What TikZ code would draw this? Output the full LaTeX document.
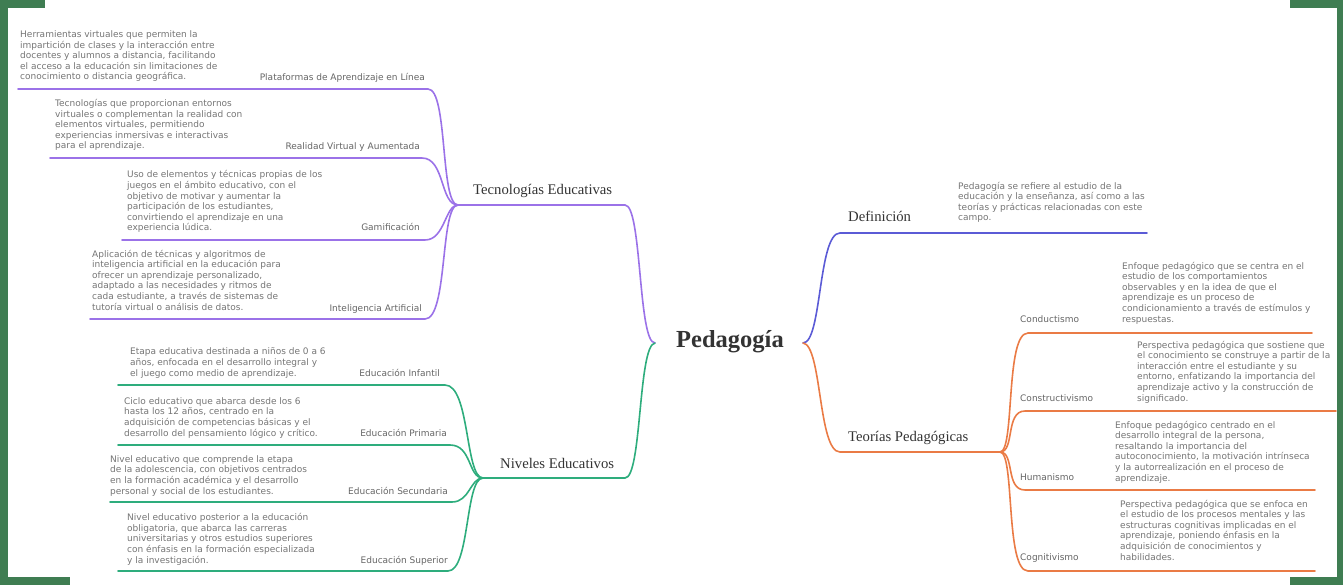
\documentclass[tikz,border=0pt]{standalone}
\usepackage{fontspec}
\setmainfont{DejaVu Sans}
\newfontfamily\slabfont{Liberation Serif}
\definecolor{cpur}{HTML}{9B72E8}
\definecolor{cgrn}{HTML}{2EAD7D}
\definecolor{cblu}{HTML}{5B5BD6}
\definecolor{corg}{HTML}{EA7B45}
\definecolor{cfrm}{HTML}{3F7D52}
\definecolor{ctxt}{HTML}{757575}
\definecolor{clab}{HTML}{656565}
\definecolor{ctop}{HTML}{333333}
\newcommand\dbox[1]{\parbox[b]{300pt}{\raggedright #1}}
\tikzset{
  desc/.style={anchor=base west, inner sep=0pt, font=\fontsize{9}{10.6}\selectfont, text=ctxt},
  sublab/.style={inner sep=0pt, font=\fontsize{9}{11}\selectfont, text=clab},
  toplab/.style={anchor=base west, inner sep=0pt, font=\slabfont\fontsize{14.7}{17}\selectfont, text=ctop},
  branch/.style={line width=1.6pt, line cap=round}
}
\begin{document}
\begin{tikzpicture}[x=1pt,y=-1pt]
\useasboundingbox (0,0) rectangle (1343,585);
% frame corners
\fill[cfrm] (0,0) rectangle (8,585);
\fill[cfrm] (1337,0) rectangle (1343,585);
\fill[cfrm] (0,0) rectangle (45,8);
\fill[cfrm] (1290,0) rectangle (1343,8);
\fill[cfrm] (0,577) rectangle (70,585);
\fill[cfrm] (1290,577) rectangle (1343,585);

% center
\node[inner sep=0pt, font=\slabfont\bfseries\fontsize{24.5}{28}\selectfont, text=ctop] (P) at (730,342) {Pedagogía};
\coordinate (Pl) at (655,343);
\coordinate (Pr) at (803,343);

% topic labels
\node[toplab] (tec) at (473,195) {Tecnologías Educativas};
\node[toplab] (niv) at (500,468) {Niveles Educativos};
\node[toplab] (def) at (848,222) {Definición};
\node[toplab] (teo) at (848,441) {Teorías Pedagógicas};

% hubs and ends
\coordinate (hubT) at (458,205);
\coordinate (tecR) at (625,205);
\coordinate (hubN) at (483,478);
\coordinate (nivR) at (625,478);
\coordinate (defL) at (840,233);
\coordinate (defR) at (1147,233);
\coordinate (teoL) at (840,452);
\coordinate (hubO) at (1000,452);

% main branches
\draw[branch, cpur] (Pl) .. controls (638,343) and (642,205) .. (tecR) -- (hubT);
\draw[branch, cgrn] (Pl) .. controls (638,345) and (642,478) .. (nivR) -- (hubN);
\draw[branch, cblu] (Pr) .. controls (822,343) and (818,233) .. (defL) -- (defR);
\draw[branch, corg] (Pr) .. controls (822,345) and (818,452) .. (teoL) -- (hubO);

% ---- Tecnologias Educativas ----
\coordinate (platR) at (428,89);  \coordinate (platL) at (18,89);
\coordinate (rvR) at (422,158);   \coordinate (rvL) at (50,158);
\coordinate (gamR) at (425,240);  \coordinate (gamL) at (122,240);
\coordinate (iaR) at (425,319);   \coordinate (iaL) at (90,319);
\draw[branch, cpur] (hubT) .. controls (440,205) and (448,89) .. (platR) -- (platL);
\draw[branch, cpur] (hubT) .. controls (440,205) and (445,158) .. (rvR) -- (rvL);
\draw[branch, cpur] (hubT) .. controls (445,205) and (445,240) .. (gamR) -- (gamL);
\draw[branch, cpur] (hubT) .. controls (440,205) and (448,319) .. (iaR) -- (iaL);

\node[sublab, anchor=base east] (platT) at (425,81) {Plataformas de Aprendizaje en Línea};
\node[desc] (platD) at (20,80) {\dbox{Herramientas virtuales que permiten la\\impartición de clases y la interacción entre\\docentes y alumnos a distancia, facilitando\\el acceso a la educación sin limitaciones de\\conocimiento o distancia geográfica.}};
\node[sublab, anchor=base east] (rvT) at (420,150) {Realidad Virtual y Aumentada};
\node[desc] (rvD) at (55,149) {\dbox{Tecnologías que proporcionan entornos\\virtuales o complementan la realidad con\\elementos virtuales, permitiendo\\experiencias inmersivas e interactivas\\para el aprendizaje.}};
\node[sublab, anchor=base east] (gamT) at (420,231) {Gamificación};
\node[desc] (gamD) at (127,231) {\dbox{Uso de elementos y técnicas propias de los\\juegos en el ámbito educativo, con el\\objetivo de motivar y aumentar la\\participación de los estudiantes,\\convirtiendo el aprendizaje en una\\experiencia lúdica.}};
\node[sublab, anchor=base east] (iaT) at (422,311) {Inteligencia Artificial};
\node[desc] (iaD) at (92,310) {\dbox{Aplicación de técnicas y algoritmos de\\inteligencia artificial en la educación para\\ofrecer un aprendizaje personalizado,\\adaptado a las necesidades y ritmos de\\cada estudiante, a través de sistemas de\\tutoría virtual o análisis de datos.}};

% ---- Niveles Educativos ----
\coordinate (infR) at (445,385);  \coordinate (infL) at (118,385);
\coordinate (priR) at (450,445);  \coordinate (priL) at (118,445);
\coordinate (secR) at (452,502);  \coordinate (secL) at (110,502);
\coordinate (supR) at (448,571);  \coordinate (supL) at (118,571);
\draw[branch, cgrn] (hubN) .. controls (465,478) and (470,385) .. (infR) -- (infL);
\draw[branch, cgrn] (hubN) .. controls (468,478) and (472,445) .. (priR) -- (priL);
\draw[branch, cgrn] (hubN) .. controls (470,478) and (470,502) .. (secR) -- (secL);
\draw[branch, cgrn] (hubN) .. controls (465,478) and (470,571) .. (supR) -- (supL);

\node[sublab, anchor=base east] (infT) at (440,376) {Educación Infantil};
\node[desc] (infD) at (130,376) {\dbox{Etapa educativa destinada a niños de 0 a 6\\años, enfocada en el desarrollo integral y\\el juego como medio de aprendizaje.}};
\node[sublab, anchor=base east] (priT) at (447,436) {Educación Primaria};
\node[desc] (priD) at (124,436) {\dbox{Ciclo educativo que abarca desde los 6\\hasta los 12 años, centrado en la\\adquisición de competencias básicas y el\\desarrollo del pensamiento lógico y crítico.}};
\node[sublab, anchor=base east] (secT) at (448,494) {Educación Secundaria};
\node[desc] (secD) at (110,494) {\dbox{Nivel educativo que comprende la etapa\\de la adolescencia, con objetivos centrados\\en la formación académica y el desarrollo\\personal y social de los estudiantes.}};
\node[sublab, anchor=base east] (supT) at (448,563) {Educación Superior};
\node[desc] (supD) at (127,563) {\dbox{Nivel educativo posterior a la educación\\obligatoria, que abarca las carreras\\universitarias y otros estudios superiores\\con énfasis en la formación especializada\\y la investigación.}};

% ---- Definicion ----
\node[desc] (defD) at (958,221) {\dbox{Pedagogía se refiere al estudio de la\\educación y la enseñanza, así como a las\\teorías y prácticas relacionadas con este\\campo.}};

% ---- Teorias Pedagogicas ----
\coordinate (conL) at (1028,333); \coordinate (conR) at (1312,333);
\coordinate (ctrL) at (1025,411); \coordinate (ctrR) at (1336,411);
\coordinate (humL) at (1025,490); \coordinate (humR) at (1315,490);
\coordinate (cogL) at (1028,571); \coordinate (cogR) at (1315,571);
\draw[branch, corg] (hubO) .. controls (1015,452) and (1005,333) .. (conL) -- (conR);
\draw[branch, corg] (hubO) .. controls (1015,452) and (1005,411) .. (ctrL) -- (ctrR);
\draw[branch, corg] (hubO) .. controls (1015,452) and (1005,490) .. (humL) -- (humR);
\draw[branch, corg] (hubO) .. controls (1015,452) and (1005,571) .. (cogL) -- (cogR);

\node[sublab, anchor=base west] (conT) at (1020,322) {Conductismo};
\node[desc] (conD) at (1122,322) {\dbox{Enfoque pedagógico que se centra en el\\estudio de los comportamientos\\observables y en la idea de que el\\aprendizaje es un proceso de\\condicionamiento a través de estímulos y\\respuestas.}};
\node[sublab, anchor=base west] (ctrT) at (1020,401) {Constructivismo};
\node[desc] (ctrD) at (1137,401) {\dbox{Perspectiva pedagógica que sostiene que\\el conocimiento se construye a partir de la\\interacción entre el estudiante y su\\entorno, enfatizando la importancia del\\aprendizaje activo y la construcción de\\significado.}};
\node[sublab, anchor=base west] (humT) at (1020,480) {Humanismo};
\node[desc] (humD) at (1115,481) {\dbox{Enfoque pedagógico centrado en el\\desarrollo integral de la persona,\\resaltando la importancia del\\autoconocimiento, la motivación intrínseca\\y la autorrealización en el proceso de\\aprendizaje.}};
\node[sublab, anchor=base west] (cogT) at (1020,560) {Cognitivismo};
\node[desc] (cogD) at (1120,560) {\dbox{Perspectiva pedagógica que se enfoca en\\el estudio de los procesos mentales y las\\estructuras cognitivas implicadas en el\\aprendizaje, poniendo énfasis en la\\adquisición de conocimientos y\\habilidades.}};
\end{tikzpicture}
\end{document}
